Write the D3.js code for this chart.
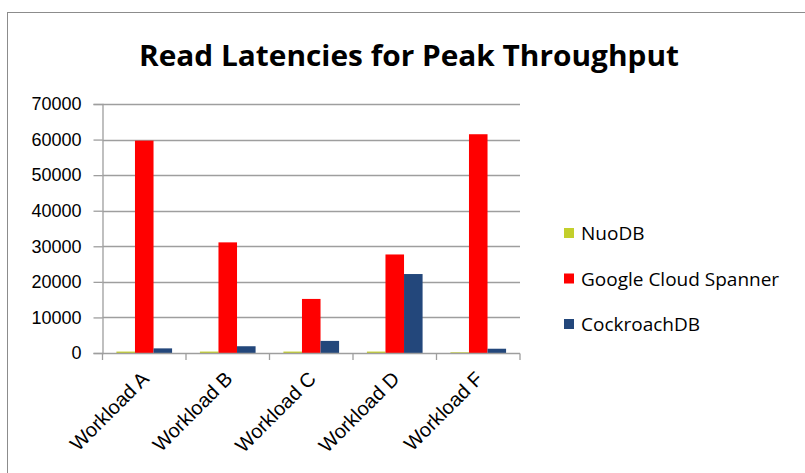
<!DOCTYPE html>
<html>
<head>
<meta charset="utf-8">
<script src="https://cdn.jsdelivr.net/npm/d3@7"></script>
<style>
  html, body { margin: 0; padding: 0; background: #fff; }
  svg { display: block; }
</style>
</head>
<body>
<svg id="chart" width="805" height="473"></svg>
<script>
const categories = ["Workload A", "Workload B", "Workload C", "Workload D", "Workload F"];
const seriesNames = ["NuoDB", "Google Cloud Spanner", "CockroachDB"];
const nuodb = [400, 400, 400, 400, 200];
const spanner = [59700, 31100, 15200, 27700, 61500];
const cockroach = [1300, 1900, 3400, 22200, 1200];
const yTicks = [0, 10000, 20000, 30000, 40000, 50000, 60000, 70000];
const colors = ["#C3CF2C", "#FF0000", "#23477B"];
const title = "Read Latencies for Peak Throughput";

const series = [nuodb, spanner, cockroach];
const svg = d3.select("#chart");

// frame
svg.append("rect").attr("x", 7.5).attr("y", 12.5).attr("width", 820).attr("height", 480)
  .attr("fill", "none").attr("stroke", "#8c8c8c").attr("stroke-width", 1);

// title
svg.append("text").attr("x", 409).attr("y", 66).attr("text-anchor", "middle")
  .attr("font-family", "'Open Sans', sans-serif").attr("font-weight", 700)
  .attr("font-size", 29).attr("textLength", 540).attr("lengthAdjust", "spacingAndGlyphs")
  .attr("fill", "#000").text(title);

const y = d3.scaleLinear().domain([0, 70000]).range([353, 104]);
const x = d3.scaleBand().domain(categories).range([102.5, 520]).padding(0);
const bw = x.bandwidth();
const x1 = d3.scaleBand().domain(d3.range(series.length)).range([bw / 6, bw * 5 / 6]).padding(0);

// gridlines
svg.append("g").selectAll("line").data(yTicks.filter(d => d > 0)).join("line")
  .attr("x1", 102.5).attr("x2", 520).attr("y1", d => Math.round(y(d)) + 0.5).attr("y2", d => Math.round(y(d)) + 0.5)
  .attr("stroke", "#9e9e9e").attr("stroke-width", 1.3);

// bars
const g = svg.append("g");
categories.forEach((c, i) => {
  series.forEach((s, j) => {
    g.append("rect")
      .attr("x", x(c) + x1(j))
      .attr("y", y(s[i]))
      .attr("width", x1.bandwidth())
      .attr("height", y(0) - y(s[i]))
      .attr("fill", colors[j]);
  });
});

// y axis
const yAxis = d3.axisLeft(y).tickValues(yTicks).tickSize(9).tickPadding(12).tickFormat(d3.format("d"));
const ya = svg.append("g").attr("transform", "translate(102.5,0)").call(yAxis);
ya.select(".domain").attr("stroke", "#9e9e9e").attr("stroke-width", 1.3);
ya.selectAll(".tick line").attr("stroke", "#9e9e9e").attr("stroke-width", 1.3);
ya.selectAll(".tick text").attr("font-family", "'Liberation Sans', Arial, sans-serif")
  .attr("font-size", 18).attr("fill", "#000");

// x axis
svg.append("line").attr("x1", 102.5).attr("x2", 520).attr("y1", 353.5).attr("y2", 353.5)
  .attr("stroke", "#9e9e9e").attr("stroke-width", 1.3);
const bounds = categories.map(c => x(c)).concat([x(categories[categories.length - 1]) + bw]);
svg.append("g").selectAll("line").data(bounds).join("line")
  .attr("x1", d => d).attr("x2", d => d).attr("y1", 353.5).attr("y2", 360)
  .attr("stroke", "#9e9e9e").attr("stroke-width", 1.3);

svg.append("g").selectAll("text").data(categories).join("text")
  .attr("transform", d => `translate(${x(d) + bw / 2 + 6},380) rotate(-45)`)
  .attr("text-anchor", "end")
  .attr("font-family", "'Liberation Sans', Arial, sans-serif")
  .attr("font-size", 20).attr("fill", "#000").text(d => d);

// legend
const leg = svg.append("g");
seriesNames.forEach((n, j) => {
  const cy = 233 + j * 45.5;
  leg.append("rect").attr("x", 564).attr("y", cy - 5).attr("width", 10).attr("height", 10).attr("fill", colors[j]);
  leg.append("text").attr("x", 581).attr("y", cy + 7)
    .attr("font-family", "'Open Sans', sans-serif").attr("font-size", 19).attr("fill", "#000").text(n);
});
</script>
</body>
</html>
